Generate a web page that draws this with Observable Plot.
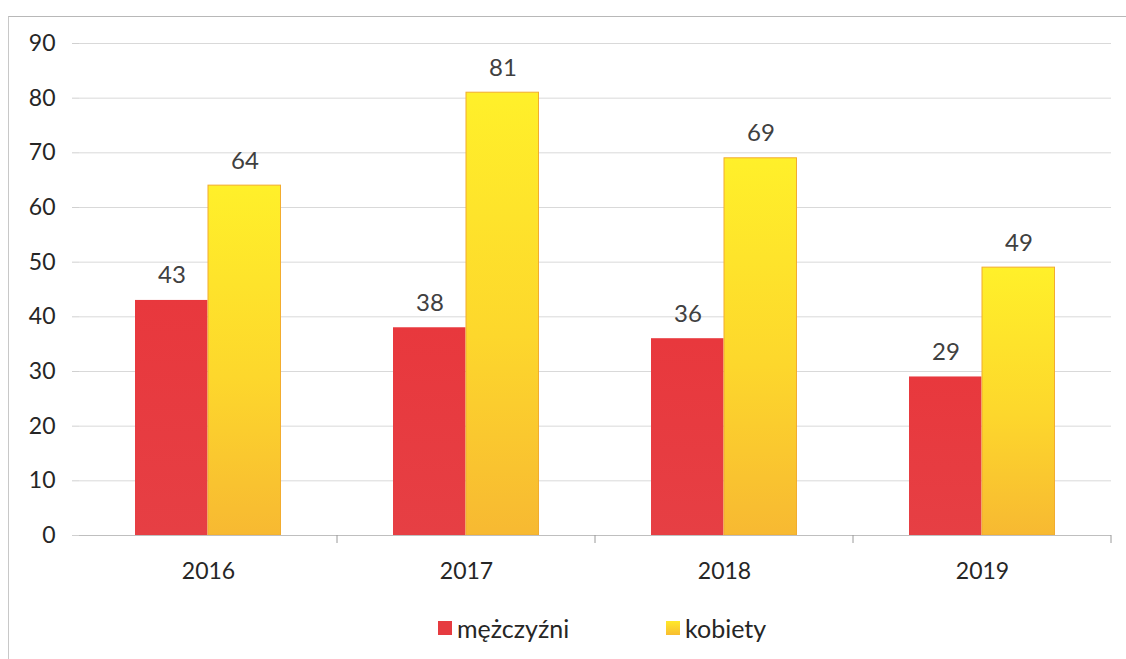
<!DOCTYPE html>
<html>
<head>
<meta charset="utf-8">
<script src="https://cdn.jsdelivr.net/npm/d3@7"></script>
<script src="https://cdn.jsdelivr.net/npm/@observablehq/plot@0.6"></script>
<style>
  html, body { margin: 0; padding: 0; background: #fff; }
  body { width: 1126px; height: 659px; position: relative; overflow: hidden; font-family: Lato, "Open Sans", sans-serif; }
  #frame { position: absolute; left: 8px; top: 16px; width: 1118px; height: 660px; border-top: 1px solid #b8b8b8; border-left: 1px solid #c8c8c8; box-sizing: border-box; }
  #chart { position: absolute; left: 0; top: 0; }
  #legend { position: absolute; top: 613px; left: 0; width: 1126px; font-size: 25px; color: #262626; }
  .item { position: absolute; display: flex; align-items: center; }
  .sw { width: 14px; height: 14px; margin-right: 5px; }
</style>
</head>
<body>
<div id="frame"></div>
<div id="chart"></div>
<div id="legend">
  <div class="item" style="left:438px"><span class="sw" style="background:#e63b40"></span>mężczyźni</div>
  <div class="item" style="left:666px"><span class="sw" style="background:linear-gradient(#ffe92a,#f8bd30)"></span>kobiety</div>
</div>
<script>
const years = ["2016", "2017", "2018", "2019"];
const series = ["mężczyźni", "kobiety"];
const men = [43, 38, 36, 29];
const women = [64, 81, 69, 49];
const yTicks = [0, 10, 20, 30, 40, 50, 60, 70, 80, 90];

const data = [];
years.forEach((y, i) => {
  data.push({year: y, series: series[0], value: men[i]});
  data.push({year: y, series: series[1], value: women[i]});
});

const fillFor = d => d.series === series[0] ? "url(#gradRed)" : "url(#gradYellow)";
const strokeFor = d => d.series === series[0] ? "none" : "#f2ac2e";

const chart = Plot.plot({
  width: 1126,
  height: 600,
  marginLeft: 77,
  marginRight: 14,
  marginTop: 43,
  marginBottom: 65,
  style: {fontFamily: "Lato, 'Open Sans', sans-serif", fontSize: "23px", color: "#262626", background: "transparent"},
  fx: {domain: years, padding: 0, label: null, axis: "bottom", tickSize: 0, tickPadding: 27},
  x: {domain: series, paddingInner: 0, paddingOuter: 0.75, axis: null},
  y: {domain: [0, 90], ticks: yTicks, label: null, axis: null},
  marks: [
    Plot.ruleY(yTicks, {stroke: "#d9d9d9", strokeWidth: 1}),
    Plot.axisY({ticks: yTicks, label: null, tickSize: 7, tickPadding: 17, stroke: "#d0d0d0", fill: "#262626"}),
    Plot.ruleX([0], {stroke: "#d0d0d0", frameAnchor: "left"}),
    Plot.barY(data, {fx: "year", x: "series", y: "value", fill: fillFor, stroke: strokeFor, strokeWidth: 1, insetRight: 0.5}),
    Plot.text(data, {fx: "year", x: "series", y: "value", text: d => String(d.value), lineAnchor: "bottom", dy: -17, fill: "#404040", fontSize: 24}),
    Plot.ruleY([0], {stroke: "#bfbfbf", strokeWidth: 1})
  ]
});

const svg = d3.select(chart);
const defs = svg.insert("defs", ":first-child");
const gr = defs.append("linearGradient").attr("id", "gradRed").attr("x1", 0).attr("y1", 0).attr("x2", 0).attr("y2", 1);
gr.append("stop").attr("offset", "0%").attr("stop-color", "#e8383d");
gr.append("stop").attr("offset", "100%").attr("stop-color", "#e63f44");
const gy = defs.append("linearGradient").attr("id", "gradYellow").attr("x1", 0).attr("y1", 0).attr("x2", 0).attr("y2", 1);
gy.append("stop").attr("offset", "0%").attr("stop-color", "#fff02a");
gy.append("stop").attr("offset", "55%").attr("stop-color", "#fdd72c");
gy.append("stop").attr("offset", "100%").attr("stop-color", "#f7b932");

// category separator ticks below the baseline, positioned from the fx and y scales
const fx = chart.scale("fx");
const ys = chart.scale("y");
const y0 = ys.apply(0);
const bw = fx.bandwidth;
const g = svg.append("g").attr("stroke", "#9a9a9a").attr("stroke-width", 1);
years.forEach(yr => {
  const xr = fx.apply(yr) + bw;
  g.append("line").attr("x1", xr).attr("x2", xr).attr("y1", y0).attr("y2", y0 + 8);
});

document.getElementById("chart").appendChild(chart);
</script>
</body>
</html>
